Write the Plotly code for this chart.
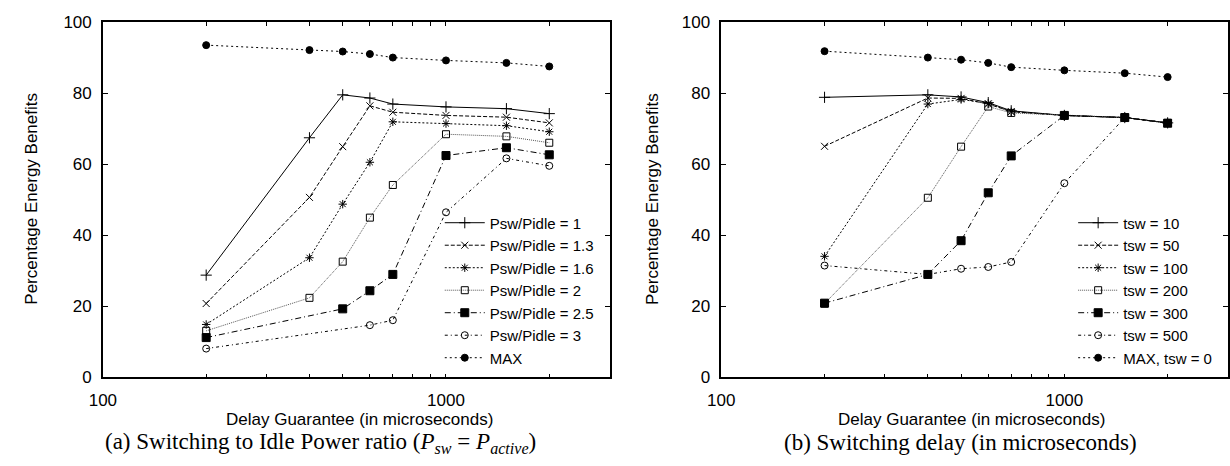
import plotly.graph_objects as go

# ---------------- data ----------------
delay = [200, 400, 500, 600, 700, 1000, 1500, 2000]
delay_a25 = [200, 500, 600, 700, 1000, 1500, 2000]
delay_a3 = [200, 600, 700, 1000, 1500, 2000]

a_r1 = [28.8, 67.5, 79.6, 78.7, 77.0, 76.2, 75.7, 74.3]
a_r13 = [20.8, 50.7, 65.0, 76.5, 74.7, 73.8, 73.3, 71.7]
a_r16 = [14.9, 33.7, 48.8, 60.6, 72.0, 71.5, 70.9, 69.2]
a_r2 = [13.1, 22.4, 32.6, 45.0, 54.2, 68.5, 67.9, 66.1]
a_r25 = [11.2, 19.3, 24.4, 29.0, 62.5, 64.7, 62.7]
a_r3 = [8.1, 14.7, 16.1, 46.5, 61.7, 59.6]
a_max = [93.6, 92.2, 91.8, 91.1, 90.1, 89.3, 88.6, 87.6]

b_t10 = [78.9, 79.6, 79.0, 77.4, 75.1, 73.8, 73.2, 71.7]
b_t50 = [65.1, 78.7, 78.6, 77.0, 74.9, 73.8, 73.2, 71.7]
b_t100 = [34.1, 77.0, 78.3, 77.2, 74.8, 73.8, 73.2, 71.7]
b_t200 = [20.8, 50.6, 65.0, 76.3, 74.5, 73.8, 73.2, 71.7]
b_t300 = [20.9, 29.0, 38.5, 52.0, 62.4, 73.8, 73.2, 71.6]
b_t500 = [31.5, 29.0, 30.6, 31.1, 32.5, 54.7, 73.2, 71.7]
b_max = [91.9, 90.1, 89.5, 88.6, 87.4, 86.5, 85.7, 84.6]

names_a = ["Psw/Pidle = 1", "Psw/Pidle = 1.3", "Psw/Pidle = 1.6", "Psw/Pidle = 2",
           "Psw/Pidle = 2.5", "Psw/Pidle = 3", "MAX"]
names_b = ["tsw = 10", "tsw = 50", "tsw = 100", "tsw = 200", "tsw = 300",
           "tsw = 500", "MAX, tsw = 0"]

x_ticks = [100, 200, 300, 400, 500, 600, 700, 800, 900, 1000, 2000]
x_ticktext = ["100", "", "", "", "", "", "", "", "", "1000", ""]
y_ticks = [0, 20, 40, 60, 80, 100]

# ---------------- styles ----------------
styles = [
    dict(dash="solid", symbol="cross-thin-open", size=8, color="black"),
    dict(dash="4px,2px", symbol="x-thin-open", size=7, color="black"),
    dict(dash="2px,2px", symbol="asterisk-open", size=7, color="black"),
    dict(dash="1px,1px", symbol="square-open", size=7, color="#555555"),
    dict(dash="6px,3px,1px,3px", symbol="square", size=8, color="black"),
    dict(dash="3px,3px,1px,3px", symbol="circle-open", size=7, color="black"),
    dict(dash="2px,3px", symbol="circle", size=7, color="black"),
]

FONT = "Liberation Sans, Arial, sans-serif"
SERIF = "Liberation Serif, Times New Roman, serif"

fig = go.Figure()

series_a = [(delay, a_r1), (delay, a_r13), (delay, a_r16), (delay, a_r2),
            (delay_a25, a_r25), (delay_a3, a_r3), (delay, a_max)]
series_b = [(delay, b_t10), (delay, b_t50), (delay, b_t100), (delay, b_t200),
            (delay, b_t300), (delay, b_t500), (delay, b_max)]


def add(xs, ys, name, st, xa, ya, leg):
    mcol = "black"
    fig.add_trace(go.Scatter(
        x=xs, y=ys, name=name, mode="lines+markers",
        xaxis=xa, yaxis=ya, legend=leg,
        line=dict(color=st["color"], width=1, dash=st["dash"]),
        marker=dict(symbol=st["symbol"], size=st["size"], color=mcol,
                    line=dict(color=mcol, width=1)),
    ))


for (xs, ys), nm, st in zip(series_a, names_a, styles):
    add(xs, ys, nm, st, "x", "y", "legend")
for (xs, ys), nm, st in zip(series_b, names_b, styles):
    add(xs, ys, nm, st, "x2", "y2", "legend2")

W, H = 1230, 466
def px(v):
    return v / W
def py(v):
    return 1 - v / H

xaxis_common = dict(
    type="log", range=[2, 3.477], tickvals=x_ticks, ticktext=x_ticktext,
    ticks="inside", ticklen=4, tickcolor="black", tickwidth=1,
    showline=True, linecolor="black", linewidth=1.5, mirror="ticks",
    showgrid=False, zeroline=False, ticklabelstandoff=7,
    tickfont=dict(family=FONT, size=17, color="black"),
)
yaxis_common = dict(
    range=[0, 100], tickvals=y_ticks,
    ticks="inside", ticklen=5, tickcolor="black", tickwidth=1,
    showline=True, linecolor="black", linewidth=1.5, mirror="ticks",
    showgrid=False, zeroline=False, ticklabelstandoff=6,
    tickfont=dict(family=FONT, size=17, color="black"),
)

legend_common = dict(
    bgcolor="rgba(0,0,0,0)", borderwidth=0,
    font=dict(family=FONT, size=15, color="black"),
    xanchor="right", yanchor="bottom", tracegroupgap=0, itemwidth=40,
)

fig.update_layout(
    width=W, height=H,
    margin=dict(l=0, r=0, t=0, b=0),
    paper_bgcolor="white", plot_bgcolor="white",
    font=dict(family=FONT, color="black"),
    xaxis=dict(domain=[px(90), px(603)], anchor="y", **xaxis_common),
    yaxis=dict(domain=[py(384), py(14)], anchor="x", **yaxis_common),
    xaxis2=dict(domain=[px(716), px(1229)], anchor="y2", **xaxis_common),
    yaxis2=dict(domain=[py(384), py(14)], anchor="x2", **yaxis_common),
    legend=dict(x=px(592), y=py(381), **legend_common),
    legend2=dict(x=px(1218), y=py(381), **legend_common),
    showlegend=True,
)

ann = [
    dict(text="Percentage Energy Benefits", x=px(18), y=py(198), textangle=-90,
         font=dict(family=FONT, size=17)),
    dict(text="Percentage Energy Benefits", x=px(647), y=py(198), textangle=-90,
         font=dict(family=FONT, size=17)),
    dict(text="Delay Guarantee (in microseconds)", x=px(350), y=py(428),
         font=dict(family=FONT, size=17)),
    dict(text="Delay Guarantee (in microseconds)", x=px(969), y=py(428),
         font=dict(family=FONT, size=17)),
    dict(text="(a) Switching to Idle Power ratio (<i>P<sub>sw</sub></i> = <i>P<sub>active</sub></i>)",
         x=px(310), y=py(452), font=dict(family=SERIF, size=23)),
    dict(text="(b) Switching delay (in microseconds)", x=px(958), y=py(452),
         font=dict(family=SERIF, size=23)),
]
for a in ann:
    a.update(xref="paper", yref="paper", showarrow=False,
             xanchor="center", yanchor="middle")
    a["font"]["color"] = "black"
fig.update_layout(annotations=ann)

fig.write_html("out.html", config={"displayModeBar": False},
               post_script="document.body.style.margin='0px';")
